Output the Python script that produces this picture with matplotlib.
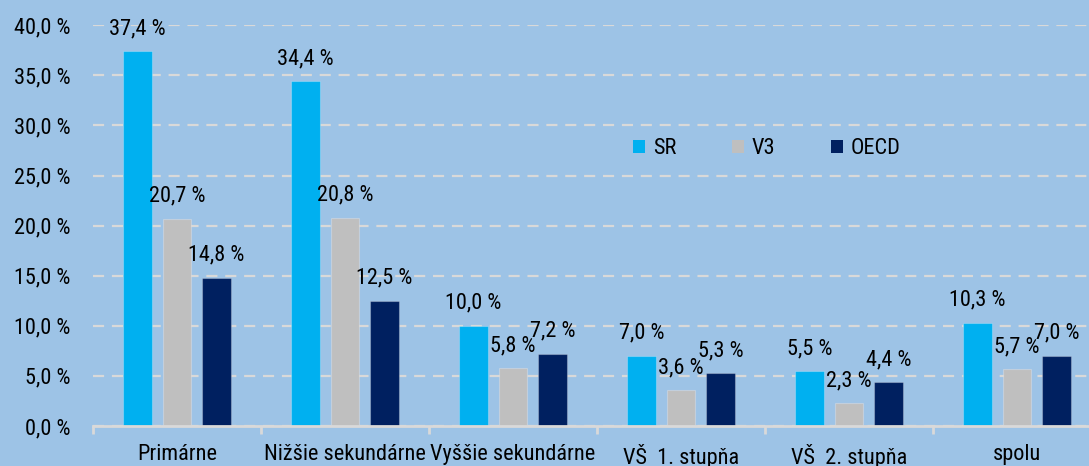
import matplotlib
matplotlib.use("Agg")
import matplotlib.pyplot as plt
from matplotlib.patches import Patch
import numpy as np

categories = ["Primárne", "Nižšie sekundárne", "Vyššie sekundárne", "VŠ  1. stupňa", "VŠ  2. stupňa", "spolu"]
series_names = ["SR", "V3", "OECD"]
sr = [37.4, 34.4, 10.0, 7.0, 5.5, 10.3]
v3 = [20.7, 20.8, 5.8, 3.6, 2.3, 5.7]
oecd = [14.8, 12.5, 7.2, 5.3, 4.4, 7.0]
yticks = [0, 5, 10, 15, 20, 25, 30, 35, 40]

colors = ["#00B0F0", "#BFBFBF", "#002060"]
bg = "#9DC3E6"
grid_c = "#D9D9D9"

plt.rcParams['font.family'] = ['Roboto Condensed', 'Archivo Narrow', 'Liberation Sans', 'DejaVu Sans']
plt.rcParams['font.size'] = 16

fig = plt.figure(figsize=(10.89, 4.66), dpi=100)
fig.patch.set_facecolor(bg)
ax = fig.add_axes([93/1089, 1 - 426/466, (1101 - 93)/1089, (426 - 25.3)/466])
ax.set_facecolor(bg)

x = np.arange(len(categories))
offsets = [-0.235, 0.0, 0.235]
width = 0.167
for vals, off, col, name in zip([sr, v3, oecd], offsets, colors, series_names):
    bars = ax.bar(x + off, vals, width=width, color=col, label=name, zorder=3,
                  edgecolor=(1, 1, 1, 0.25), linewidth=0.8)
    for b, v in zip(bars, vals):
        ax.annotate(f"{v:.1f} %".replace(".", ","),
                    (b.get_x() + b.get_width() / 2, v),
                    xytext=(0, 12.2), textcoords="offset points",
                    ha="center", va="baseline", fontsize=16, color="black", zorder=5)

ax.set_xlim(-0.5, len(categories) - 0.5)
ax.set_ylim(0, 40)
ax.set_yticks(yticks)
ax.set_yticklabels([f"{t:.1f} %".replace(".", ",") for t in yticks])
ax.tick_params(axis="y", length=0, pad=16, labelsize=16)

ax.set_xticks(x)
ax.set_xticklabels(categories)
ax.set_xticks(np.arange(len(categories) + 1) - 0.5, minor=True)
ax.tick_params(axis="x", which="major", length=0, pad=13, labelsize=16)
ax.tick_params(axis="x", which="minor", length=6, width=2, color=grid_c)

ax.yaxis.grid(True, color=grid_c, linestyle=(0, (5, 3.5)), linewidth=1.6, zorder=0)
ax.set_axisbelow(True)
for s in ["left", "right", "top"]:
    ax.spines[s].set_visible(False)
ax.spines["bottom"].set_color(grid_c)
ax.spines["bottom"].set_linewidth(2)
ax.spines["bottom"].set_zorder(4)

handles = [Patch(facecolor=c, edgecolor="none") for c in colors]
leg = ax.legend(handles, series_names, ncol=3, frameon=False, loc="center",
                bbox_to_anchor=((767 - 93) / (1101 - 93), (426 - 149) / (426 - 25.3)),
                handlelength=0.55, handleheight=0.55, handletextpad=0.35,
                columnspacing=2.5, fontsize=16)

fig.savefig("out.png", dpi=100, facecolor=bg)
